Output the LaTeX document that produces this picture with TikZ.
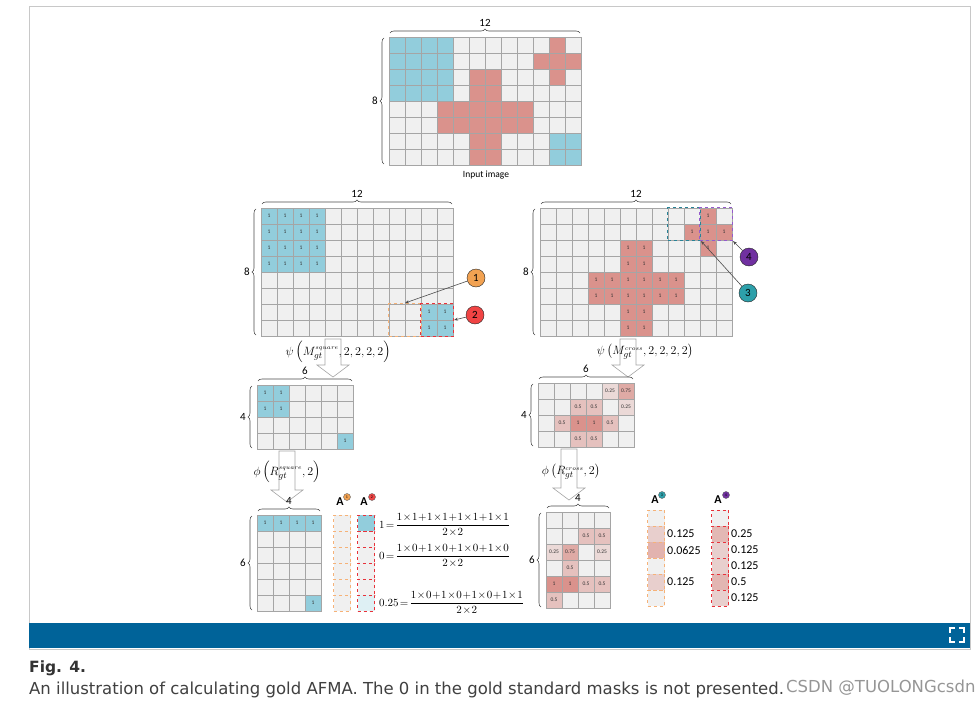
\documentclass[tikz,border=0pt]{standalone}
\usepackage{amsmath}
\usepackage{fontspec}
\usetikzlibrary{fit,decorations.pathreplacing,arrows.meta}
\newfontfamily\lblfont{Carlito}
\newfontfamily\capfont{DejaVu Sans}
\newcommand\cellfont{\lblfont\fontsize{5.5}{6}\selectfont}
\newcommand\tightmath{\medmuskip=1mu\relax\thickmuskip=2mu\relax}
\definecolor{cellgray}{RGB}{240,240,240}
\definecolor{gridline}{RGB}{165,165,165}
\definecolor{sqblue}{RGB}{146,205,220}
\definecolor{crossred}{RGB}{218,146,140}
\definecolor{callorange}{RGB}{242,162,82}
\definecolor{callred}{RGB}{240,68,68}
\definecolor{callteal}{RGB}{45,160,170}
\definecolor{callpurple}{RGB}{112,48,160}
\definecolor{boxorange}{RGB}{246,178,120}
\definecolor{boxred}{RGB}{232,50,58}
\definecolor{boxteal}{RGB}{40,130,150}
\definecolor{boxpurple}{RGB}{150,90,205}
\definecolor{framegray}{RGB}{200,200,200}
\definecolor{barblue}{RGB}{0,99,153}
\definecolor{wmgray}{RGB}{150,150,150}

\tikzset{
  cellbox/.style={draw=gridline, fill=cellgray, minimum size=16pt, inner sep=0pt, line width=0.6pt, font=\cellfont, text=black!80},
  dimbrace/.style={decorate, decoration={brace, amplitude=4pt}, draw=black!70, line width=0.6pt},
  dimlabel/.style={font=\lblfont\fontsize{11}{11}\selectfont, inner sep=1pt},
  hollow/.style={draw=black!35, fill=white, line width=0.6pt},
  mathlabel/.style={font=\fontsize{12.5}{13}\selectfont\tightmath, inner sep=0pt},
  formula/.style={font=\fontsize{10.8}{13}\selectfont\tightmath, inner sep=0pt, anchor=west},
  callout/.style={circle, draw=black!85, minimum size=18pt, inner sep=0pt, font=\lblfont\fontsize{11}{11}\selectfont},
  pointer/.style={draw=black!70, line width=0.6pt, -{Stealth[length=4pt,width=3pt]}},
  selbox/.style={dashed, line width=1.4pt, inner sep=0pt},
  acell/.style={draw=#1, dashed, fill=cellgray, minimum width=17pt, minimum height=16pt, inner sep=0pt, line width=1pt},
  alabel/.style={font=\lblfont\bfseries\fontsize{12}{12}\selectfont, inner sep=0pt},
  adot/.style={circle, draw=black!60, minimum size=7pt, inner sep=0pt, font=\lblfont\fontsize{4}{4}\selectfont},
  avalue/.style={font=\lblfont\fontsize{12}{12}\selectfont, anchor=west, inner sep=1pt},
}

% grid of cells: name, x0, y0, cols, rows
\newcommand\gridat[5]{%
  \foreach \c in {1,...,#4}{\foreach \r in {1,...,#5}{%
    \node[cellbox] (#1-\c-\r) at ({#2+16*\c-8},{#3+16*\r-8}) {};}}}
% braces and sizes: name, x0, y0, cols, rows, top label, left label
\newcommand\gridbraces[7]{%
  \draw[dimbrace] ({#2+1},{#3-4}) -- ({#2+16*#4-1},{#3-4});
  \node[dimlabel, anchor=south] (#1-top) at ({#2+8*#4},{#3-9}) {#6};
  \draw[dimbrace] ({#2-5},{#3+16*#5-1}) -- ({#2-5},{#3+1});
  \node[dimlabel, anchor=east] (#1-left) at ({#2-10},{#3+8*#5}) {#7};}
% hollow down arrow: name, x, y top, y tip
\newcommand\hollowdown[4]{%
  \coordinate (#1-s) at ({#2},{#3});
  \coordinate (#1-e) at ({#2},{#4});
  \draw[hollow] ({#2-8},{#3}) -- ({#2+8},{#3}) -- ({#2+8},{#4-12}) -- ({#2+16},{#4-12})
    -- (#1-e) -- ({#2-16},{#4-12}) -- ({#2-8},{#4-12}) -- cycle;}

\begin{document}
\begin{tikzpicture}[x=1pt,y=-1pt]
\fill[white] (0,0) rectangle (978,704);
\useasboundingbox (0,0) rectangle (978,704);
\draw[framegray, line width=1pt] (29,6) rectangle (970,649);
\fill[barblue] (29,623) rectangle (970,648);
\draw[white, line width=1.6pt] (950,633) -- (950,628) -- (955,628);
\draw[white, line width=1.6pt] (959,628) -- (964,628) -- (964,633);
\draw[white, line width=1.6pt] (950,637) -- (950,642) -- (955,642);
\draw[white, line width=1.6pt] (959,642) -- (964,642) -- (964,637);

% input image
\gridat{in}{389}{37}{12}{8}
\foreach \c/\r in {1/1,2/1,3/1,4/1,1/2,2/2,3/2,4/2,1/3,2/3,3/3,4/3,1/4,2/4,3/4,4/4,11/7,12/7,11/8,12/8}
  \node[cellbox, fill=sqblue] (inf-\c-\r) at (in-\c-\r) {};
\foreach \c/\r in {11/1,10/2,11/2,12/2,11/3,6/3,7/3,6/4,7/4,4/5,5/5,6/5,7/5,8/5,9/5,4/6,5/6,6/6,7/6,8/6,9/6,6/7,7/7,6/8,7/8}
  \node[cellbox, fill=crossred] (inf-\c-\r) at (in-\c-\r) {};
\gridbraces{in}{389}{37}{12}{8}{12}{8}
\node[dimlabel, font=\lblfont\fontsize{9.5}{10}\selectfont] (inname) at (486,175) {Input image};

% square mask
\gridat{sq}{261}{208}{12}{8}
\foreach \c/\r in {1/1,2/1,3/1,4/1,1/2,2/2,3/2,4/2,1/3,2/3,3/3,4/3,1/4,2/4,3/4,4/4,11/7,12/7,11/8,12/8}
  \node[cellbox, fill=sqblue] (sqf-\c-\r) at (sq-\c-\r) {1};
\gridbraces{sq}{261}{208}{12}{8}{12}{8}
\node[selbox, draw=boxorange, fit=(sq-9-7)(sq-10-8)] (box1) {};
\node[selbox, draw=boxred, fit=(sq-11-7)(sq-12-8)] (box2) {};
\node[callout, fill=callorange] (c1) at (476,278) {1};
\node[callout, fill=callred] (c2) at (475,315) {2};
\draw[pointer] (c1) -- (box1.north);
\draw[pointer] (c2) -- (box2.east);

% cross mask
\gridat{cr}{540}{208}{12}{8}
\foreach \c/\r in {11/1,10/2,11/2,12/2,11/3,6/3,7/3,6/4,7/4,4/5,5/5,6/5,7/5,8/5,9/5,4/6,5/6,6/6,7/6,8/6,9/6,6/7,7/7,6/8,7/8}
  \node[cellbox, fill=crossred] (crf-\c-\r) at (cr-\c-\r) {1};
\gridbraces{cr}{540}{208}{12}{8}{12}{8}
\node[selbox, draw=boxteal, fit=(cr-9-1)(cr-10-2)] (box3) {};
\node[selbox, draw=boxpurple, fit=(cr-11-1)(cr-12-2)] (box4) {};
\node[callout, fill=callpurple] (c4) at (749,257) {4};
\node[callout, fill=callteal] (c3) at (748,293) {3};
\draw[pointer] (c3) -- (box3.south east);
\draw[pointer] (c4) -- (box4.south east);

% psi
\hollowdown{psiL}{333}{339}{377}
\hollowdown{psiR}{628}{339}{377}
\node[mathlabel] (psil) at (338,352) {$\psi\left(M_{gt}^{\scriptscriptstyle square},2,2,2,2\right)$};
\node[mathlabel] (psir) at (645,352) {$\psi\left(M_{gt}^{\scriptscriptstyle cross},2,2,2,2\right)$};

% pooled grids
\gridat{sqr}{257}{385}{6}{4}
\foreach \c/\r in {1/1,2/1,1/2,2/2,6/4}
  \node[cellbox, fill=sqblue] (sqrf-\c-\r) at (sqr-\c-\r) {1};
\gridbraces{sqr}{257}{385}{6}{4}{6}{4}
\gridat{crr}{538}{383}{6}{4}
\foreach \c/\r/\v in {5/1/0.25,6/1/0.75,3/2/0.5,4/2/0.5,6/2/0.25,2/3/0.5,3/3/1,4/3/1,5/3/0.5,3/4/0.5,4/4/0.5}{
  \pgfmathtruncatemacro\p{100*\v}
  \node[cellbox, fill=crossred!\p!cellgray] (crrf-\c-\r) at (crr-\c-\r) {\v};}
\gridbraces{crr}{538}{383}{6}{4}{6}{4}

% phi
\hollowdown{phiL}{287}{451}{502}
\hollowdown{phiR}{569}{449}{500}
\node[mathlabel] (phil) at (287,472) {$\phi\left(R_{gt}^{\scriptscriptstyle square},2\right)$};
\node[mathlabel] (phir) at (571,472) {$\phi\left(R_{gt}^{\scriptscriptstyle cross},2\right)$};

% final grids
\gridat{sqp}{257}{515}{4}{6}
\foreach \c/\r in {1/1,2/1,3/1,4/1,4/6}
  \node[cellbox, fill=sqblue] (sqpf-\c-\r) at (sqp-\c-\r) {1};
\gridbraces{sqp}{257}{515}{4}{6}{4}{6}
\gridat{crp}{546}{512}{4}{6}
\foreach \c/\r/\v in {3/2/0.5,4/2/0.5,1/3/0.25,2/3/0.75,4/3/0.25,2/4/0.5,1/5/1,2/5/1,3/5/0.5,4/5/0.5,1/6/0.5}{
  \pgfmathtruncatemacro\p{100*\v}
  \node[cellbox, fill=crossred!\p!cellgray] (crpf-\c-\r) at (crp-\c-\r) {\v};}
\gridbraces{crp}{546}{512}{4}{6}{4}{6}

% AFMA columns
\foreach \r in {1,...,6}{
  \node[acell=boxorange] (a1-\r) at (342,{515+16*\r-8}) {};
  \node[acell=boxred] (a2-\r) at (366,{515+16*\r-8}) {};
  \node[acell=boxorange] (a3-\r) at (656,{510+16*\r-8}) {};
  \node[acell=boxred] (a4-\r) at (720,{510+16*\r-8}) {};}
\node[acell=boxred, fill=sqblue] (a2f-1) at (a2-1) {};
\node[acell=boxred, fill=sqblue!30!white] (a2f-6) at (a2-6) {};
\foreach \r/\v/\p in {2/0.125/35,3/0.0625/65,5/0.125/35}{
  \node[acell=boxorange, fill=crossred!\p!cellgray] (a3f-\r) at (a3-\r) {};
  \node[avalue] (a3v-\r) at ([xshift=1pt]a3-\r.east) {\v};}
\foreach \r/\v/\p in {2/0.25/60,3/0.125/35,4/0.125/35,5/0.5/62,6/0.125/35}{
  \node[acell=boxred, fill=crossred!\p!cellgray] (a4f-\r) at (a4-\r) {};
  \node[avalue] (a4v-\r) at ([xshift=1pt]a4-\r.east) {\v};}

\node[alabel] (A1) at (340,502) {A};
\node[adot, fill=callorange] (d1) at (347,497) {1};
\node[alabel] (A2) at (364,502) {A};
\node[adot, fill=callred] (d2) at (372,497) {2};
\node[alabel] (A3) at (655,500) {A};
\node[adot, fill=callteal] (d3) at (662,495) {3};
\node[alabel] (A4) at (718,500) {A};
\node[adot, fill=callpurple] (d4) at (726,495) {4};

% formulas
\node[formula] (eq1) at (379,525) {$1=\dfrac{1\times1+1\times1+1\times1+1\times1}{2\times2}$};
\node[formula] (eq2) at (379,556) {$0=\dfrac{1\times0+1\times0+1\times0+1\times0}{2\times2}$};
\node[formula] (eq3) at (379,603) {$0.25=\dfrac{1\times0+1\times0+1\times0+1\times1}{2\times2}$};

% caption
\node[anchor=west, inner sep=0pt, text=black!80, font=\capfont\bfseries\fontsize{15.5}{18}\selectfont] (figno) at (29,668) {Fig. 4.};
\node[anchor=west, inner sep=0pt, text=black!75, font=\capfont\fontsize{16.5}{19}\selectfont] (caption) at (29,690) {An illustration of calculating gold AFMA. The 0 in the gold standard masks is not presented.};
\node[anchor=west, inner sep=0pt, text=wmgray, font=\capfont\fontsize{16.5}{19}\selectfont] (mark) at (786,688) {CSDN @TUOLONGcsdn};
\end{tikzpicture}
\end{document}
